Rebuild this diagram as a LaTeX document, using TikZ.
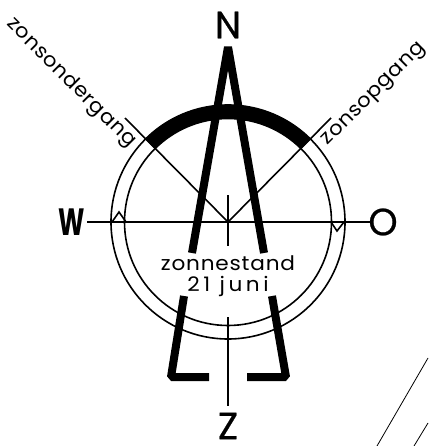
\documentclass[tikz,border=0pt]{standalone}
\usepackage{fontspec}
\setmainfont{Poppins}
\usetikzlibrary{positioning}

\begin{document}
\begin{tikzpicture}[
  x=1pt, y=-1pt,
  thinline/.style={draw, line width=1.6pt},
  hairline/.style={draw, line width=0.8pt},
  heavyline/.style={draw, line width=8pt, line join=miter, miter limit=1},
  dayarc/.style={draw, line width=14pt},
  compass/.style={inner sep=0pt, font=\fontsize{38}{38}\selectfont\addfontfeature{FakeStretch=0.98,FakeBold=0.6}},
  compassbold/.style={inner sep=0pt, font=\fontsize{38}{38}\selectfont\bfseries\addfontfeature{FakeStretch=0.66}},
  sunlabel/.style={inner sep=0pt, align=center, font=\fontsize{20}{21}\selectfont\addfontfeature{FakeStretch=1.06,LetterSpace=3}},
  standlabel/.style={sunlabel, font=\fontsize{20}{21}\selectfont\addfontfeature{FakeStretch=1.08,LetterSpace=4}},
]
  \useasboundingbox (0,0) rectangle (428,446);
  \coordinate (c) at (228,222);
  % circles
  \draw[thinline] (c) circle[radius=103.5];
  \draw[thinline] (c) circle[radius=117];
  % day arc
  \draw[dayarc] (228-110.25*0.7071,222-110.25*0.7071) arc[start angle=-135, end angle=-45, radius=110.25];
  % axes
  \coordinate (west) at (87,222);
  \coordinate (east) at (370,222);
  \coordinate (up) at (228,195);
  \coordinate (down) at (228,246);
  \coordinate (south) at (228,317);
  \coordinate (southend) at (228,406);
  \draw[thinline] (west) -- (east);
  \draw[thinline] (up) -- (down);
  \draw[thinline] (south) -- (southend);
  % sunrise and sunset
  \coordinate (sunset) at (125,118);
  \coordinate (sunrise) at (331,118);
  \draw[thinline] (sunset) -- (c) -- (sunrise);
  % small marks
  \draw[thinline] (112,222) -- (119,212) -- (126,222);
  \draw[thinline] (331,222) -- (337,231) -- (344,222);
  % sun rays
  \draw[heavyline] (192,253) -- (228,47) -- (264,253);
  \draw[heavyline] (184,296) -- (171,377) -- (209,377);
  \draw[heavyline] (272,296) -- (286,377) -- (247,377);
  % labels
  \node[compass] (n) at (228,25) {N};
  \node[compass] (z) at (228,426) {Z};
  \node[compassbold] (w) at (72,222) {W};
  \node[compass] (o) at (383,222) {O};
  \node[standlabel] (stand) at (228,276) {zonnestand\\\addfontfeature{LetterSpace=18}21 juni};
  \node[sunlabel, rotate=-45] (onder) at (71,83) {zonsondergang};
  \node[sunlabel, rotate=45] (op) at (374.5,95) {zonsopgang};
  % edge of the plot
  \coordinate (a1) at (377,446);
  \coordinate (a2) at (428,358);
  \coordinate (b1) at (414,446);
  \coordinate (b2) at (428,423);
  \draw[hairline] (a1) -- (a2);
  \draw[hairline] (b1) -- (b2);
\end{tikzpicture}
\end{document}
